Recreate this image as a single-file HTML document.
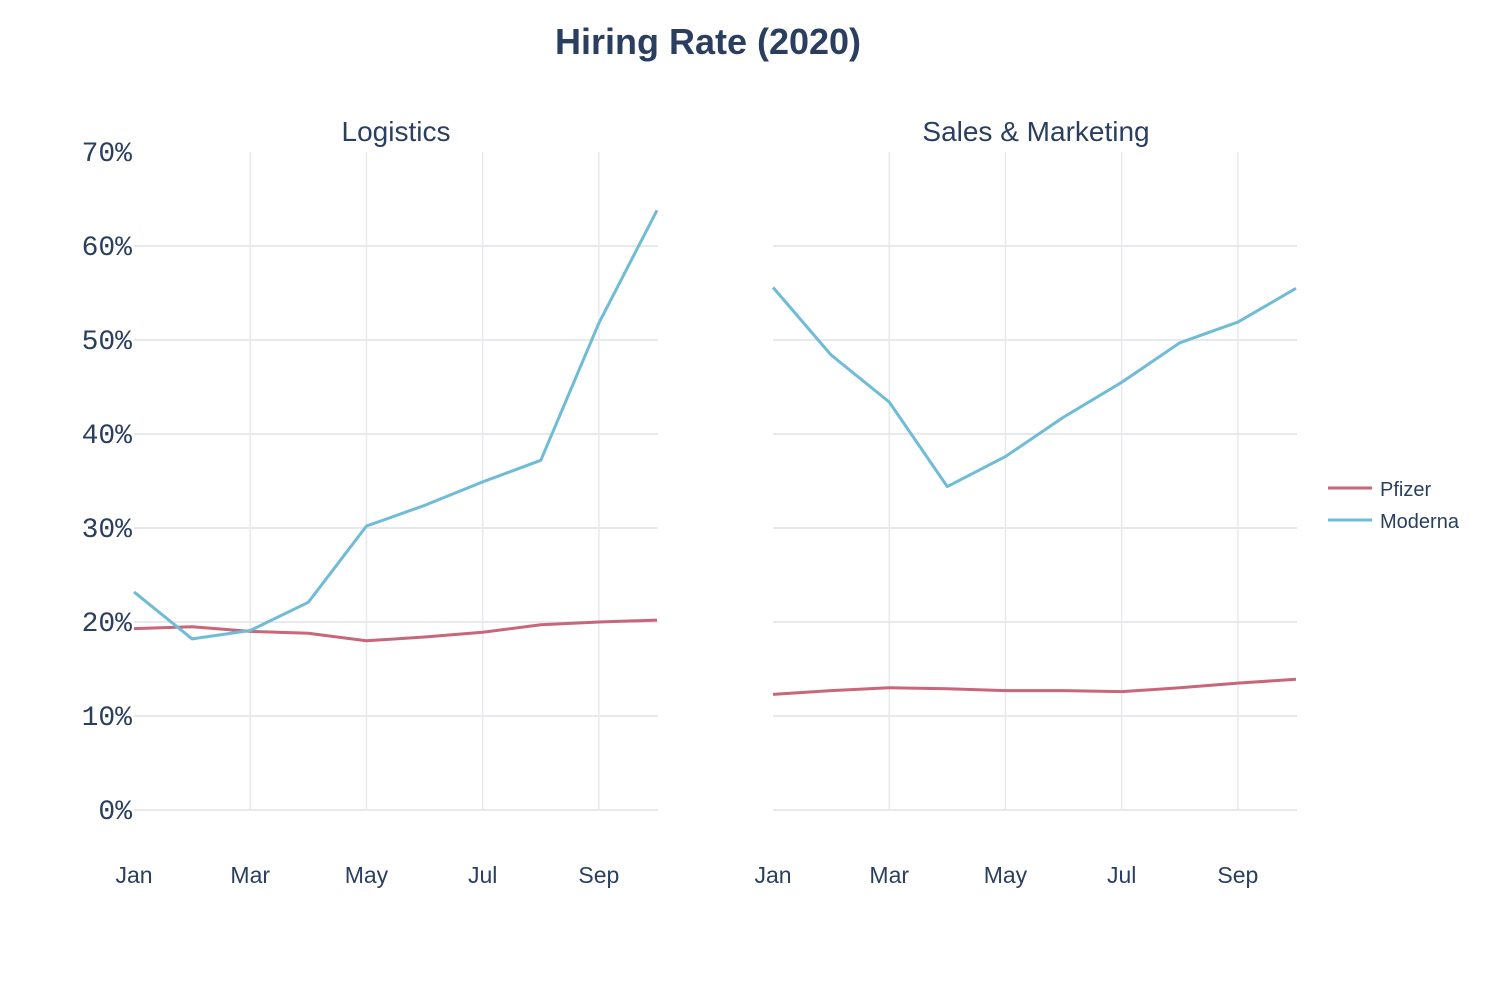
<!DOCTYPE html>
<html><head><meta charset="utf-8">
<style>
html,body{margin:0;padding:0;background:#fff;}
svg{display:block;}
</style></head>
<body>
<svg id="chart" width="1497" height="983" xmlns="http://www.w3.org/2000/svg" font-family="'Liberation Sans', sans-serif">
<text x="708" y="54" text-anchor="middle" font-size="36" font-weight="bold" fill="#2a3f5f">Hiring Rate (2020)</text>
<text x="396" y="141" text-anchor="middle" font-size="28" fill="#2a3f5f">Logistics</text>
<text x="1036" y="141" text-anchor="middle" font-size="28" fill="#2a3f5f">Sales &amp; Marketing</text>
<g id="grid"></g>
<g id="axes"></g>
<g id="series"></g>
<g>
  <g>
    <line x1="1328" y1="488" x2="1372" y2="488" stroke="#c8667a" stroke-width="3"/>
    <text x="1380" y="496" font-size="20" fill="#2a3f5f">Pfizer</text>
  </g>
  <g>
    <line x1="1328" y1="520" x2="1372" y2="520" stroke="#6fbcd6" stroke-width="3"/>
    <text x="1380" y="528" font-size="20" fill="#2a3f5f">Moderna</text>
  </g>
</g>
</svg>
<script>
const months = ["Jan","Feb","Mar","Apr","May","Jun","Jul","Aug","Sep","Oct"];
const xTickLabels = ["Jan","Mar","May","Jul","Sep"];
const yTicks = [0,10,20,30,40,50,60,70];
const logisticsPfizer = [19.3,19.5,19.0,18.8,18.0,18.4,18.9,19.7,20.0,20.2];
const logisticsModerna = [23.2,18.2,19.1,22.1,30.2,32.4,34.9,37.2,51.8,63.8];
const salesPfizer = [12.3,12.7,13.0,12.9,12.7,12.7,12.6,13.0,13.5,13.9];
const salesModerna = [55.6,48.4,43.4,34.4,37.6,41.8,45.5,49.7,51.9,55.5];

const NS="http://www.w3.org/2000/svg";
function mk(tag, attrs, parent){const e=document.createElementNS(NS,tag);for(const k in attrs)e.setAttribute(k,attrs[k]);parent.appendChild(e);return e;}
const y = v => 810 - 9.4*v;
const panels = [
  {x0:134, x1:657, name:"logistics", p:logisticsPfizer, m:logisticsModerna, yLabels:true},
  {x0:773, x1:1296, name:"sales", p:salesPfizer, m:salesModerna, yLabels:false}
];
const grid=document.getElementById('grid'), axes=document.getElementById('axes'), series=document.getElementById('series');
panels.forEach(pn=>{
  const x = i => pn.x0 + (pn.x1-pn.x0)*i/(months.length-1);
  yTicks.forEach(t=>{
    if(t<70){
      const l=mk('line',{x1:pn.x0,x2:pn.x1+1,y1:y(t),y2:y(t),stroke:'#e8e9ed','stroke-width':2},grid);
      
      
    }
    if(pn.yLabels){
      const tx=mk('text',{x:132,y:y(t)+9,'text-anchor':'end','font-size':28,fill:'#2a3f5f','font-family':"'Liberation Mono', monospace"},axes);
      tx.textContent=t+'%';
      
      
    }
  });
  xTickLabels.forEach(lab=>{
    const i=months.indexOf(lab);
    if(i>0){
      const l=mk('line',{x1:x(i),x2:x(i),y1:152,y2:810,stroke:'#e8e9ed','stroke-width':1.5},grid);
      
      
    }
    const tx=mk('text',{x:x(i),y:883,'text-anchor':'middle','font-size':23,fill:'#2a3f5f'},axes);
    tx.textContent=lab;
    
    
  });
  [[pn.p,'#c8667a','pfizer'],[pn.m,'#6fbcd6','moderna']].forEach(([d,c,n])=>{
    const pts=d.map((v,i)=>x(i).toFixed(1)+','+y(v).toFixed(1)).join(' ');
    const pl=mk('polyline',{points:pts,fill:'none',stroke:c,'stroke-width':3,'stroke-linejoin':'round'},series);
    
    
  });
});
</script>
</body></html>
